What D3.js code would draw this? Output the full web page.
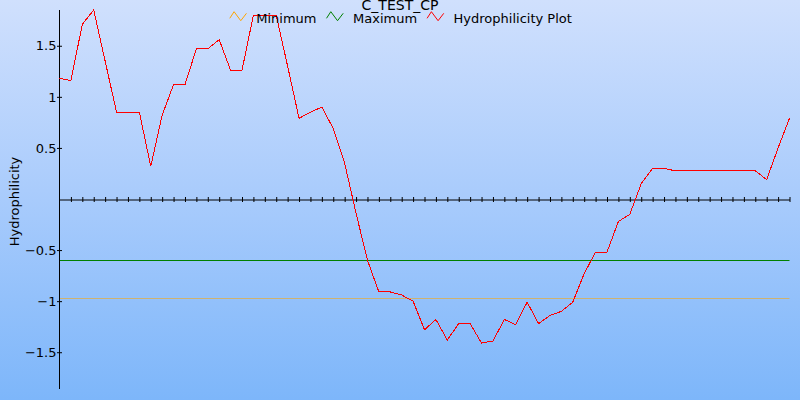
<!DOCTYPE html>
<html>
<head>
<meta charset="utf-8">
<script src="https://cdn.jsdelivr.net/npm/d3@7"></script>
<style>
html, body { margin: 0; padding: 0; }
svg { display: block; font-family: "DejaVu Sans", sans-serif; }
</style>
</head>
<body>
<svg id="chart" width="800" height="400"></svg>
<script>
const title = "C_TEST_CP";
const yLabel = "Hydrophilicity";
const seriesNames = ["Minimum", "Maximum", "Hydrophilicity Plot"];
const seriesColors = ["#ffa500", "#008000", "#ff0000"];
const positions = d3.range(0, 65);
const hydrophilicity = [
  1.18, 1.16, 1.71, 1.85, 1.35, 0.85, 0.85, 0.85, 0.32, 0.82,
  1.12, 1.12, 1.47, 1.47, 1.56, 1.26, 1.26, 1.80, 1.80, 1.80,
  1.30, 0.79, 0.85, 0.90, 0.69, 0.35, -0.14, -0.60, -0.91, -0.91,
  -0.94, -1.00, -1.28, -1.18, -1.38, -1.22, -1.22, -1.41, -1.39, -1.18,
  -1.23, -1.01, -1.22, -1.14, -1.10, -1.01, -0.73, -0.52, -0.52, -0.22,
  -0.15, 0.15, 0.30, 0.30, 0.275, 0.275, 0.275, 0.275, 0.275, 0.275,
  0.275, 0.275, 0.19, 0.50, 0.79
];
const minimumValue = -0.965;
const maximumValue = -0.60;
const yTicks = [-1.5, -1, -0.5, 0.5, 1, 1.5];
const yDomain = [-1.86, 1.85];
const xDomain = [0, 64];

const svg = d3.select("#chart");
const W = 800, H = 400;

const defs = svg.append("defs");
const grad = defs.append("linearGradient").attr("id", "bg").attr("x1", 0).attr("y1", 0).attr("x2", 0).attr("y2", 1);
grad.append("stop").attr("offset", "0%").attr("stop-color", "#d0e0fd");
grad.append("stop").attr("offset", "50%").attr("stop-color", "#a8cbfc");
grad.append("stop").attr("offset", "100%").attr("stop-color", "#7db6fa");
svg.append("rect").attr("width", W).attr("height", H).attr("fill", "url(#bg)");

const x = d3.scaleLinear().domain(xDomain).range([59.5, 789.5]);
const y = d3.scaleLinear().domain(yDomain).range([389, 10]);

// min / max reference lines
const refs = [minimumValue, maximumValue];
const refOpacity = [0.55, 1];
svg.append("g").selectAll("line").data(refs).join("line")
  .attr("x1", x(xDomain[0])).attr("x2", x(xDomain[1]))
  .attr("y1", d => Math.round(y(d)) + 0.5).attr("y2", d => Math.round(y(d)) + 0.5)
  .attr("stroke", (d, i) => seriesColors[i]).attr("stroke-width", 1)
  .attr("stroke-opacity", (d, i) => refOpacity[i]);

// x axis at y=0
const xAxis = d3.axisBottom(x).tickValues(positions.slice(1)).tickSize(0).tickFormat("");
const gx = svg.append("g").attr("transform", `translate(0,${Math.round(y(0)) + 0.5})`).call(xAxis);
gx.select(".domain").attr("stroke", "#000").attr("stroke-width", 1);
gx.selectAll(".tick line").attr("y1", -2.5).attr("y2", 2.5).attr("stroke", "#000");

// y axis
const yAxis = d3.axisLeft(y).tickValues(yTicks).tickSize(0).tickPadding(3)
  .tickFormat(d => d3.format("")(d));
const gy = svg.append("g").attr("transform", `translate(59.5,0)`).call(yAxis);
gy.select(".domain").attr("stroke", "#000").attr("d", `M0,${y.range()[1]}V${y.range()[0]}`);
gy.selectAll(".tick line").attr("x1", -2.5).attr("x2", 2.5).attr("stroke", "#000");
gy.selectAll(".tick text").attr("font-size", 13).attr("font-family", "DejaVu Sans").attr("fill", "#000");

// y label
svg.append("text").attr("transform", `translate(19,201.5) rotate(-90)`)
  .attr("text-anchor", "middle").attr("font-size", 13).attr("fill", "#000").text(yLabel);

// data line
const line = d3.line().x((d, i) => x(positions[i])).y(d => y(d));
svg.append("path").datum(hydrophilicity).attr("d", line)
  .attr("fill", "none").attr("stroke", seriesColors[2]).attr("stroke-width", 1)
  .attr("shape-rendering", "crispEdges");

// title
svg.append("text").attr("x", 400).attr("y", 10).attr("text-anchor", "middle")
  .attr("font-size", 14).attr("fill", "#000").text(title);

// legend
const lg = svg.append("g");
let cx = 0;
seriesNames.forEach((name, i) => {
  const g = lg.append("g");
  g.append("path").attr("d", "M0,18.3L4.3,11.7L11,20.7L16.7,13.3")
    .attr("fill", "none").attr("stroke", seriesColors[i]).attr("stroke-width", 1);
  const t = g.append("text").attr("x", 26.5).attr("y", 23).attr("font-size", 13).attr("fill", "#000").text(name);
  const w = 26.5 + t.node().getComputedTextLength();
  g.attr("transform", `translate(${cx},0)`);
  cx += w + 10;
});
const totalW = cx - 10;
lg.attr("transform", `translate(${400.8 - totalW / 2},0)`);
</script>
</body>
</html>
